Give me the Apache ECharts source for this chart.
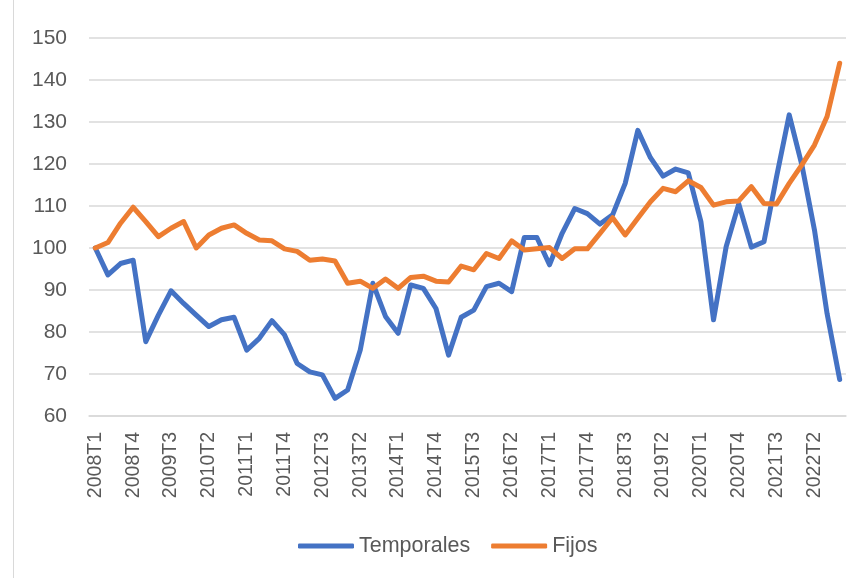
<!DOCTYPE html>
<html>
<head>
<meta charset="utf-8">
<script src="https://cdn.jsdelivr.net/npm/echarts@6/dist/echarts.min.js"></script>
<style>
html,body{margin:0;padding:0;background:#fff;}
#chart{width:861px;height:578px;}
</style>
</head>
<body>
<div id="chart"></div>
<script>
const categories = [
"2008T1","2008T2","2008T3","2008T4","2009T1","2009T2","2009T3","2009T4",
"2010T1","2010T2","2010T3","2010T4","2011T1","2011T2","2011T3","2011T4",
"2012T1","2012T2","2012T3","2012T4","2013T1","2013T2","2013T3","2013T4",
"2014T1","2014T2","2014T3","2014T4","2015T1","2015T2","2015T3","2015T4",
"2016T1","2016T2","2016T3","2016T4","2017T1","2017T2","2017T3","2017T4",
"2018T1","2018T2","2018T3","2018T4","2019T1","2019T2","2019T3","2019T4",
"2020T1","2020T2","2020T3","2020T4","2021T1","2021T2","2021T3","2021T4",
"2022T1","2022T2","2022T3","2022T4"];

const temporales = [
100,93.6,96.3,97.1,77.7,84.0,89.8,86.8,84.0,81.3,82.9,83.5,75.7,78.5,82.7,79.3,
72.5,70.5,69.8,64.2,66.2,75.7,91.6,83.7,79.7,91.2,90.4,85.6,74.5,83.5,85.2,90.8,
91.6,89.6,102.5,102.5,96.0,103.5,109.4,108.2,105.7,107.9,115.4,128.0,121.5,117.1,
118.8,117.9,106.3,82.9,100.3,110.5,100.2,101.5,117.0,131.7,119.8,104.3,84.4,68.7];

const fijos = [
100,101.3,105.9,109.7,106.3,102.7,104.7,106.3,100.0,103.1,104.7,105.5,103.5,101.9,101.7,99.8,
99.2,97.1,97.4,96.9,91.6,92.1,90.4,92.6,90.4,93.0,93.3,92.1,91.9,95.7,94.8,98.7,
97.5,101.7,99.5,99.8,100.1,97.5,99.8,99.8,103.5,107.2,103.1,107.1,111.0,114.2,
113.4,116.0,114.4,110.2,111.0,111.2,114.6,110.6,110.5,115.4,119.8,124.5,131.3,144.0];

const yTicks = {min:60, max:150, step:10};

const font = '"Liberation Sans", Arial, sans-serif';
const chart = echarts.init(document.getElementById('chart'), null, {renderer:'canvas'});
chart.setOption({
  animation:false,
  backgroundColor:'#ffffff',
  graphic:[{type:'line', shape:{x1:13.5,y1:0,x2:13.5,y2:578}, style:{stroke:'#d9d9d9', lineWidth:1}}],
  grid:{left:89, right:15, top:38, bottom:162},
  legend:{
    bottom:16, left:293,
    itemWidth:56, itemHeight:5, itemGap:21,
    icon:'roundRect',
    textStyle:{fontFamily:font, fontSize:21.5, color:'#595959'},
    data:['Temporales','Fijos']
  },
  xAxis:{
    type:'category', data:categories, boundaryGap:true,
    axisLine:{show:true, lineStyle:{color:'#d9d9d9', width:1.5}},
    axisTick:{show:false},
    axisLabel:{interval:2, rotate:90, margin:16, fontFamily:font, fontSize:19.5, color:'#595959'}
  },
  yAxis:{
    type:'value', min:yTicks.min, max:yTicks.max, interval:yTicks.step,
    axisLine:{show:false}, axisTick:{show:false},
    splitLine:{lineStyle:{color:'#d9d9d9', width:1.5}},
    axisLabel:{margin:22, fontFamily:font, fontSize:21, color:'#595959'}
  },
  series:[
    {name:'Temporales', type:'line', data:temporales, symbol:'none', smooth:false,
     itemStyle:{color:'#4472C4'},
     lineStyle:{color:'#4472C4', width:5, cap:'round', join:'round'}},
    {name:'Fijos', type:'line', data:fijos, symbol:'none', smooth:false,
     itemStyle:{color:'#ED7D31'},
     lineStyle:{color:'#ED7D31', width:5, cap:'round', join:'round'}}
  ]
});
</script>
</body>
</html>
